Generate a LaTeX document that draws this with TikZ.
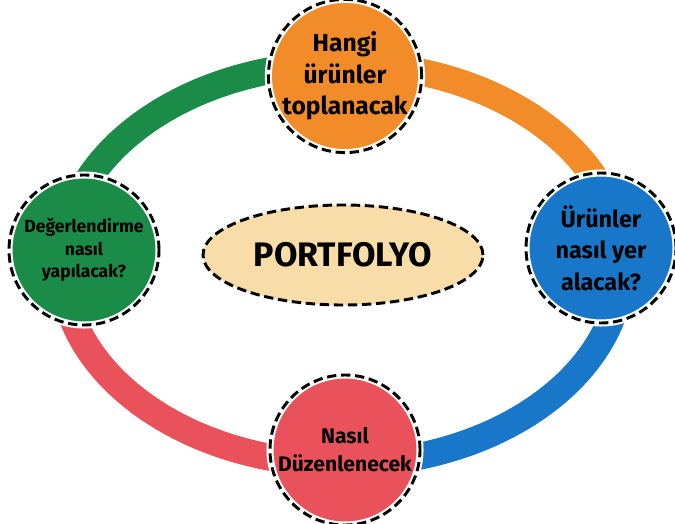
\documentclass[tikz,border=0pt]{standalone}
\usepackage{fontspec}
\setmainfont{Fira Sans}
\usetikzlibrary{shapes.geometric}
\definecolor{turuncu}{HTML}{F28C28}
\definecolor{mavi}{HTML}{1877C9}
\definecolor{kirmizi}{HTML}{E9525A}
\definecolor{yesil}{HTML}{1B8C48}
\definecolor{krem}{HTML}{F9DDA8}
\begin{document}
\begin{tikzpicture}[x=0.03cm,y=0.03cm,
    band/.style={line width=23pt},
    soru/.style={circle, minimum size=4.5cm, inner sep=0pt, align=center,
      draw=white, line width=6pt,
      postaction={draw=black, line width=2.5pt, dash pattern=on 8pt off 4pt}},
    govde/.style={ellipse, minimum width=8.4cm, minimum height=3cm, fill=krem,
      draw=black, line width=2.5pt, dash pattern=on 8pt off 4pt}]
    \useasboundingbox (0,0) rectangle (675,523);

    \coordinate (ring) at (342,259);

    % ring
    \draw[band,yesil] (ring) ++(-280,0) arc[start angle=180,end angle=90,x radius=280,y radius=200];
    \draw[band,turuncu] (ring) ++(0,200) arc[start angle=90,end angle=0,x radius=280,y radius=200];
    \draw[band,mavi] (ring) ++(280,0) arc[start angle=0,end angle=-90,x radius=280,y radius=200];
    \draw[band,kirmizi] (ring) ++(0,-200) arc[start angle=-90,end angle=-180,x radius=280,y radius=200];

    \node[govde, font=\bfseries\fontsize{29}{34}\selectfont] (portfolyo) at (343,268) {PORTFOLYO};

    \node[soru, fill=turuncu, font=\bfseries\fontsize{21}{27}\selectfont] (urun) at (345,447) {Hangi\\ürünler\\toplanacak};
    \node[soru, fill=mavi, font=\bfseries\fontsize{20}{27}\selectfont] (yer) at (601,275) {Ürünler\\nasıl yer\\alacak?};
    \node[soru, fill=kirmizi, font=\bfseries\fontsize{18}{24}\selectfont] (duzen) at (345,73) {Nasıl\\Düzenlenecek};
    \node[soru, fill=yesil, font=\bfseries\fontsize{15}{19}\selectfont] (deger) at (84,273) {Değerlendirme\\nasıl\\yapılacak?};
\end{tikzpicture}
\end{document}
